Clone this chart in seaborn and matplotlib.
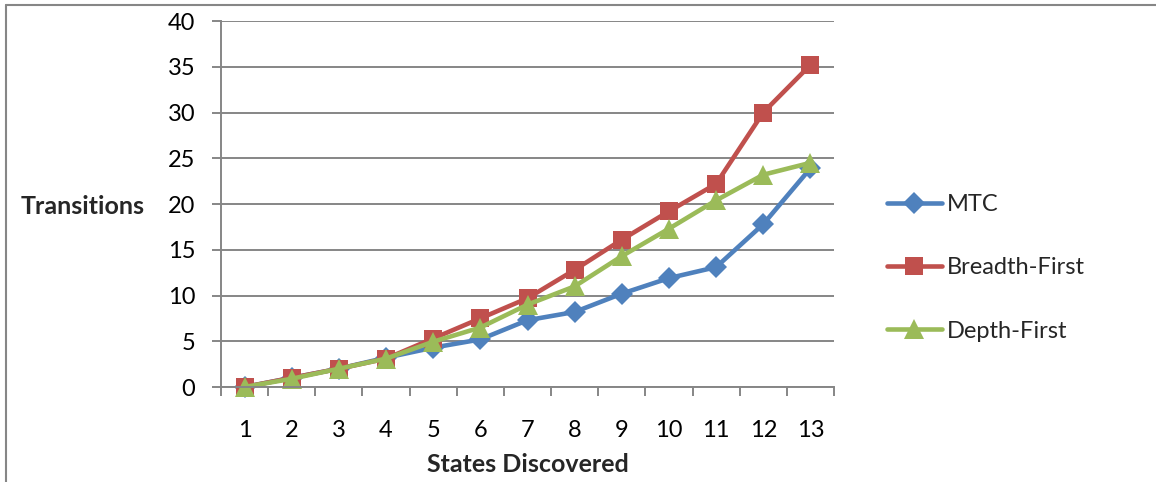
import numpy as np
import pandas as pd
import matplotlib
matplotlib.use("Agg")
import matplotlib.pyplot as plt
from matplotlib.lines import Line2D
import seaborn as sns

# Number of states discovered (categories on the x axis)
states = list(range(1, 14))

# Transitions needed by each exploration strategy
mtc = [0, 1, 2, 3.2, 4.3, 5.2, 7.3, 8.2, 10.2, 11.9, 13.1, 17.8, 23.9]
breadth_first = [0, 1, 2, 3.1, 5.3, 7.5, 9.7, 12.8, 16.1, 19.2, 22.2, 30.0, 35.2]
depth_first = [0, 0.9, 2, 3.1, 4.95, 6.5, 9.0, 11.0, 14.3, 17.3, 20.4, 23.2, 24.5]

series_names = ["MTC", "Breadth-First", "Depth-First"]
y_ticks = [0, 5, 10, 15, 20, 25, 30, 35, 40]

df = pd.DataFrame({
    "States Discovered": states * 3,
    "Transitions": mtc + breadth_first + depth_first,
    "Strategy": [series_names[0]] * 13 + [series_names[1]] * 13 + [series_names[2]] * 13,
})

sns.set_style("white")
plt.rcParams["font.family"] = ["Lato", "DejaVu Sans"]

palette = {"MTC": "#4F81BD", "Breadth-First": "#C0504D", "Depth-First": "#9BBB59"}
markers = {"MTC": "D", "Breadth-First": "s", "Depth-First": "^"}
msizes = {"MTC": 11, "Breadth-First": 13.5, "Depth-First": 14}
FS = 17

W, H, DPI = 1156, 482, 100
fig = plt.figure(figsize=(W / DPI, H / DPI), dpi=DPI)
ax = fig.add_axes([221 / W, 1 - 387 / H, (834 - 221) / W, (387 - 21) / H])

for name in series_names:
    sub = df[df["Strategy"] == name]
    sns.lineplot(data=sub, x="States Discovered", y="Transitions", ax=ax,
                 color=palette[name], marker=markers[name], markersize=msizes[name],
                 markeredgewidth=0, linewidth=3.3, label=name, legend=False,
                 clip_on=False)

grid_c = "#868686"
ax.set_xlim(0.5, 13.5)
ax.set_ylim(0, 40)
ax.set_yticks(y_ticks)
ax.set_xticks(states)
ax.set_xticks(np.arange(0.5, 14.0, 1.0), minor=True)
ax.yaxis.grid(True, color=grid_c, linewidth=1.4)
ax.xaxis.grid(False)
ax.set_axisbelow(True)
for s in ["top", "right"]:
    ax.spines[s].set_visible(False)
for s in ["left", "bottom"]:
    ax.spines[s].set_color(grid_c)
    ax.spines[s].set_linewidth(1.4)
ax.tick_params(axis="y", which="major", length=6.5, width=1.4, color=grid_c,
               pad=12, labelsize=FS, labelcolor="black", left=True)
ax.tick_params(axis="x", which="major", length=0, pad=24, labelsize=FS, labelcolor="black")
ax.tick_params(axis="x", which="minor", length=6.5, width=1.4, color=grid_c, bottom=True)
ax.set_xlabel("")
ax.set_ylabel("")

fig.text(83 / W, 1 - 206 / H, "Transitions", fontsize=FS + 1, fontweight="bold",
         ha="center", va="center")
fig.text(527.5 / W, 1 - 465 / H, "States Discovered", fontsize=FS + 1, fontweight="bold",
         ha="center", va="center")

handles = [Line2D([0], [0], color=palette[n], marker=markers[n], markersize=msizes[n],
                  markeredgewidth=0, linewidth=3.3) for n in series_names]
fig.legend(handles, series_names, loc="center left", bbox_to_anchor=(875 / W, 1 - 268 / H),
           frameon=False, fontsize=FS, borderpad=0, handlelength=2.33, handletextpad=0.2,
           labelspacing=1.78)

# Outer chart frame
fig.add_artist(Line2D([6 / W, 1], [1 - 5 / H, 1 - 5 / H], color=grid_c, linewidth=1.5))
fig.add_artist(Line2D([6 / W, 6 / W], [0, 1 - 5 / H], color=grid_c, linewidth=1.5))

fig.savefig("out.png", dpi=DPI)
